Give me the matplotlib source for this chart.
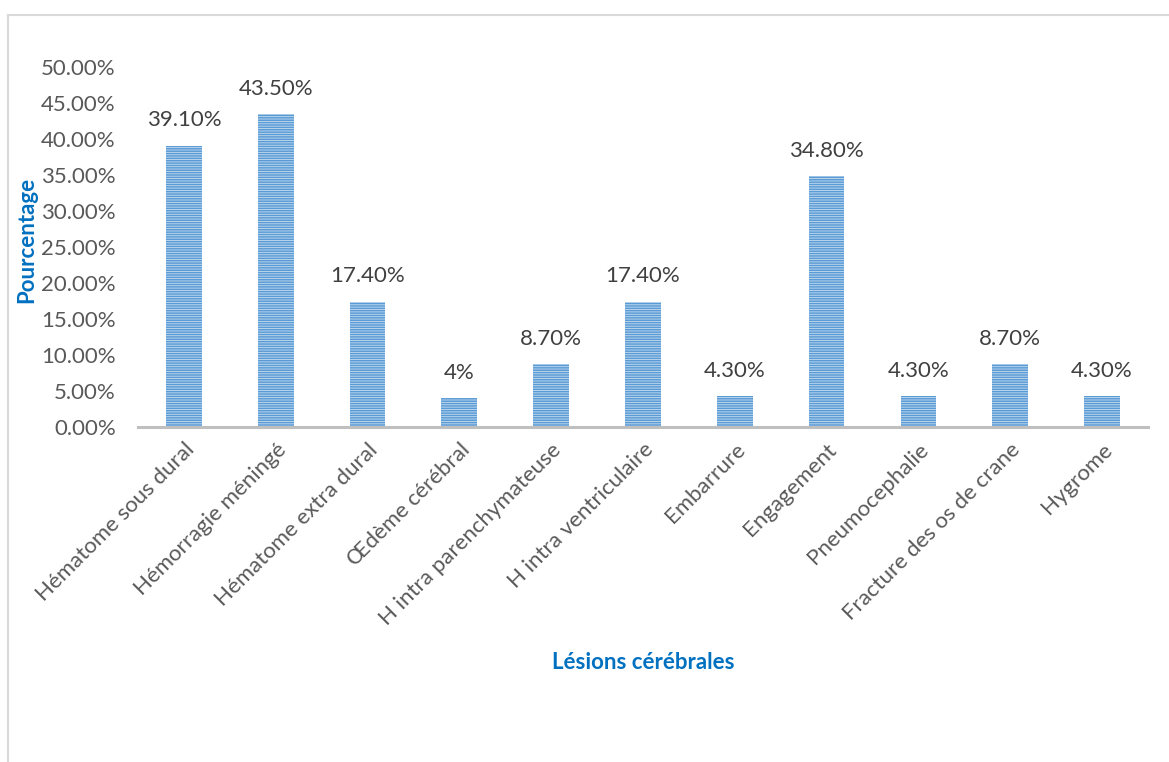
import matplotlib
matplotlib.use("Agg")
import matplotlib.pyplot as plt
from matplotlib.lines import Line2D
from matplotlib.ticker import FuncFormatter

categories = [
    "Hématome sous dural", "Hémorragie méningé", "Hématome extra dural",
    "Œdème cérébral", "H intra parenchymateuse", "H intra ventriculaire",
    "Embarrure", "Engagement", "Pneumocephalie", "Fracture des os de crane",
    "Hygrome",
]
values = [39.1, 43.5, 17.4, 4.0, 8.7, 17.4, 4.3, 34.8, 4.3, 8.7, 4.3]
value_labels = ["39.10%", "43.50%", "17.40%", "4%", "8.70%", "17.40%",
                "4.30%", "34.80%", "4.30%", "8.70%", "4.30%"]
yticks = [0, 5, 10, 15, 20, 25, 30, 35, 40, 45, 50]

plt.rcParams["font.family"] = ["Lato", "DejaVu Sans"]
plt.rcParams["hatch.linewidth"] = 1.1

fig = plt.figure(figsize=(11.69, 7.62), dpi=100)
ax = fig.add_axes([0.118, 0.4396, 0.864, 0.4724])

x = list(range(len(categories)))
bars = ax.bar(x, values, width=0.39, color="#C5DCF0", edgecolor="#5B9BD5",
              linewidth=0, hatch="-------", zorder=2)

for rect, lab in zip(bars, value_labels):
    ax.annotate(lab, (rect.get_x() + rect.get_width() / 2, rect.get_height()),
                xytext=(0, 11), textcoords="offset points", ha="center",
                va="bottom", fontsize=16, color="#404040")

ax.set_xlim(-0.5, len(categories) - 0.5)
ax.set_ylim(0, 50)
ax.set_yticks(yticks)
ax.yaxis.set_major_formatter(FuncFormatter(lambda v, _: f"{v:.2f}%"))
ax.tick_params(axis="y", length=0, pad=16, labelsize=16, labelcolor="#595959")
ax.tick_params(axis="x", length=0, pad=9)
ax.set_xticks(x)
ax.set_xticklabels(categories, rotation=45, ha="right", va="top",
                   rotation_mode="anchor", fontsize=16, color="#595959")

for side in ("left", "right", "top"):
    ax.spines[side].set_visible(False)
ax.spines["bottom"].set_color("#BFBFBF")
ax.spines["bottom"].set_linewidth(2.2)
ax.spines["bottom"].set_zorder(3)

fig.text(0.023, 0.685, "Pourcentage", rotation=90, ha="center", va="center",
         fontsize=16, fontweight="bold", color="#0070C0")
fig.text(0.55, 0.131, "Lésions cérébrales", ha="center", va="center",
         fontsize=16, fontweight="bold", color="#0070C0")

# chart frame
fig.add_artist(Line2D([0.0072, 1.0], [0.980, 0.980], color="#D9D9D9", lw=1.5,
                      transform=fig.transFigure))
fig.add_artist(Line2D([0.0072, 0.0072], [0.0, 0.980], color="#D9D9D9", lw=1.5,
                      transform=fig.transFigure))

fig.savefig("out.png", dpi=100)
